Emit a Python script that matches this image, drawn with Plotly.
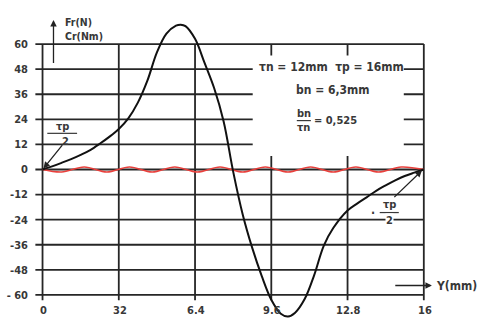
import plotly.graph_objects as go

# ---- data ----
x_ticks = [0, 3.2, 6.4, 9.6, 12.8, 16]
x_tick_text = ["0", "32", "6.4", "9.6", "12.8", "16"]
y_ticks = [60, 48, 36, 24, 12, 0, -12, -24, -36, -48, -60]
y_tick_text = ["60", "48", "36", "24", "12", "0", "-12", "-24", "-36", "-48", "- 60"]

# radial force Fr (black curve)
fr_x = [0, 0.4, 0.8, 1.2, 1.6, 2.0, 2.4, 2.8, 3.2, 3.6, 4.0, 4.4, 4.8, 5.2, 5.6, 5.8,
        6.0, 6.4, 6.8, 7.2, 7.6, 8.0, 8.4, 8.8, 9.2, 9.6, 10.0, 10.3, 10.6, 11.0,
        11.4, 11.8, 12.2, 12.8, 13.2, 13.6, 14.0, 14.4, 14.8, 15.2, 15.6, 16]
fr_y = [0, 1.5, 3.2, 5.0, 7.0, 9.3, 12.3, 15.6, 19.4, 24.5, 32.0, 42.5, 56.0, 65.0,
        68.8, 69.3, 68.6, 62.5, 51.0, 39.0, 23.0, -1.0, -21.5, -37.5, -51.0, -62.3,
        -69.0, -70.3, -68.5, -62.0, -50.5, -36.5, -28.0, -19.6, -16.3, -13.3, -10.2,
        -7.6, -5.2, -3.1, -1.5, 0]

# torque Cr (red ripple), extrema
cr_x = [0, 0.8, 1.75, 2.7, 3.65, 4.6, 5.55, 6.5, 7.45, 8.4, 9.35, 10.3, 11.25,
        12.2, 13.15, 14.1, 15.05, 16]
cr_y = [0, -1.2, 1.2, -1.2, 1.2, -1.2, 1.2, -1.2, 1.2, -1.2, 1.2, -1.2, 1.2,
        -1.2, 1.2, -1.2, 1.2, 0]

FONT = "DejaVu Sans Condensed, DejaVu Sans, sans-serif"
INK = "#262626"
TXT = "#383838"

fig = go.Figure()
fig.add_trace(go.Scatter(x=cr_x, y=cr_y, mode="lines",
                         line=dict(color="#e8403c", width=1.6, shape="spline", smoothing=1.0),
                         hoverinfo="skip"))
fig.add_trace(go.Scatter(x=fr_x, y=fr_y, mode="lines",
                         line=dict(color="#111111", width=2, shape="spline", smoothing=1.0),
                         hoverinfo="skip"))

shapes = []
for yv in y_ticks:
    shapes.append(dict(type="line", xref="x", yref="y", x0=-0.3, x1=x_ticks[-1], y0=yv, y1=yv,
                       line=dict(color=INK, width=1.8), layer="below"))
for xv in x_ticks:
    shapes.append(dict(type="line", xref="x", yref="y", x0=xv, x1=xv, y0=-62.5, y1=y_ticks[0],
                       line=dict(color=INK, width=1.8), layer="below"))
shapes.append(dict(type="rect", xref="x", yref="y", x0=8.82, x1=15.16, y0=6.5, y1=54.5,
                   fillcolor="white", line=dict(width=0), layer="below"))
shapes.append(dict(type="line", xref="x", yref="y", x0=10.67, x1=11.26, y0=23.4, y1=23.4,
                   line=dict(color=TXT, width=1.2)))
shapes.append(dict(type="line", xref="x", yref="y", x0=0.2, x1=1.45, y0=17.3, y1=17.3,
                   line=dict(color=TXT, width=1.2)))
shapes.append(dict(type="line", xref="x", yref="y", x0=14.15, x1=14.95, y0=-20.6, y1=-20.6,
                   line=dict(color=TXT, width=1.2)))

ann = []
def txt(x, y, s, size=11, xanchor="center", bg=None, align="center"):
    d = dict(x=x, y=y, xref="x", yref="y", text=s, showarrow=False, xanchor=xanchor,
             yanchor="middle", align=align,
             font=dict(family=FONT, size=size, color=TXT, weight="bold"))
    if bg:
        d["bgcolor"] = bg
        d["borderpad"] = 0
    ann.append(d)

for xv, t in zip(x_ticks, x_tick_text):
    txt(xv + 0.05, -67.5, t, size=11)

txt(0.84, 67.4, "Fr(N)<br>Cr(Nm)", size=10.5, xanchor="left", align="left")
txt(12.14, 48.8, "τn = 12mm  τp = 16mm", size=12)
txt(12.18, 37.8, "bn = 6,3mm", size=12)
txt(10.96, 26.9, "bn", size=11)
txt(10.96, 19.9, "τn", size=11)
txt(11.3, 23.4, "= 0,525", size=11, xanchor="left")
txt(0.82, 20.8, "τp", size=11)
txt(0.97, 13.4, "2", size=11)
txt(14.55, -16.8, "τp", size=11)
txt(14.55, -24.2, "2", size=11, bg="white")
txt(13.86, -20.6, "·", size=12)
txt(16.42, -55.5, "Y(mm)", size=12, xanchor="left")

def arrow(x, y, ax, ay):
    ann.append(dict(x=x, y=y, ax=ax, ay=ay, xref="x", yref="y", axref="x", ayref="y",
                    text="", showarrow=True, arrowhead=2, arrowsize=1, arrowwidth=1.3,
                    arrowcolor="#222222"))

arrow(0.46, 71.5, 0.46, 50.2)
arrow(16.34, -55.5, 14.74, -55.5)
arrow(0.04, 0.5, 0.88, 12.4)
arrow(15.92, -0.5, 14.7, -13.9)

fig.update_layout(
    width=487, height=324,
    margin=dict(l=33, r=6, t=19, b=4, autoexpand=False),
    paper_bgcolor="white", plot_bgcolor="white",
    showlegend=False,
    shapes=shapes, annotations=ann,
    xaxis=dict(range=[-0.4, 18.4], showgrid=False, zeroline=False, showticklabels=False,
               showline=False, ticks=""),
    yaxis=dict(range=[-72, 72], showgrid=False, zeroline=False, showline=False,
               tickvals=y_ticks, ticktext=y_tick_text, ticks="", ticklabelstandoff=4,
               tickfont=dict(family=FONT, size=11, color=TXT, weight="bold")),
)

fig.write_html("out.html")
